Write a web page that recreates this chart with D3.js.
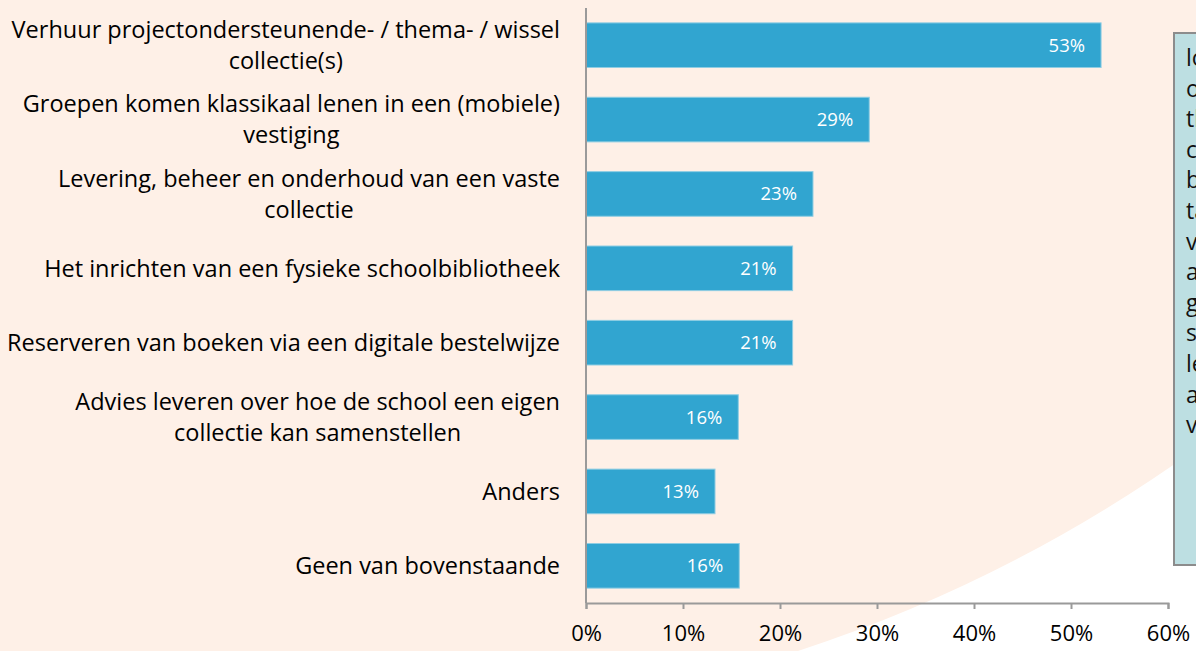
<!DOCTYPE html>
<html>
<head>
<meta charset="utf-8">
<script src="https://cdn.jsdelivr.net/npm/d3@7"></script>
<style>
  html, body { margin: 0; padding: 0; background: #fef0e7; overflow: hidden; }
  svg { display: block; font-family: "Open Sans", "Noto Sans", sans-serif; }
</style>
</head>
<body>
<div id="root"></div>
<script>
// categories, top to bottom (each entry = label lines)
const categories = [
  ['Verhuur projectondersteunende- / thema- / wissel', 'collectie(s)'],
  ['Groepen komen klassikaal lenen in een (mobiele)', 'vestiging'],
  ['Levering, beheer en onderhoud van een vaste', 'collectie'],
  ['Het inrichten van een fysieke schoolbibliotheek'],
  ['Reserveren van boeken via een digitale bestelwijze'],
  ['Advies leveren over hoe de school een eigen', 'collectie kan samenstellen'],
  ['Anders'],
  ['Geen van bovenstaande']
];
const values = [53.1, 29.2, 23.4, 21.3, 21.3, 15.7, 13.3, 15.8];
const valueLabels = ['53%', '29%', '23%', '21%', '21%', '16%', '13%', '16%'];
const xTicks = [0, 10, 20, 30, 40, 50, 60];

// text of the side panel, mostly cut off by the page edge
const panelLines = ['lokale', 'onderwijs', 'thema', 'collectie', 'bieb', 'tasjes', 'voor', 'alle', 'groepen', 'school', 'leerlingen', 'aan', 'vestiging'];

const W = 1196, H = 651;
const margin = { left: 586, right: 28, top: 8, bottom: 48 };

const svg = d3.select('#root').append('svg').attr('width', W).attr('height', H);

// background: peach with white sweep bottom right
svg.append('rect').attr('width', W).attr('height', H).attr('fill', '#fef0e7');
const sweep = d3.path();
sweep.moveTo(798, H);
sweep.quadraticCurveTo(1012, 581, W, 449);
sweep.lineTo(W, H);
sweep.closePath();
svg.append('path').attr('d', sweep.toString()).attr('fill', '#ffffff');

const x = d3.scaleLinear().domain([0, 60]).range([margin.left, W - margin.right]);
const y = d3.scaleBand().domain(d3.range(categories.length))
  .range([margin.top, H - margin.bottom]).paddingInner(0.4).paddingOuter(0.2);

// bars
svg.append('g').selectAll('rect').data(values).join('rect')
  .attr('x', x(0))
  .attr('y', (d, i) => y(i))
  .attr('width', d => x(d) - x(0))
  .attr('height', y.bandwidth())
  .attr('fill', '#31a5d0')
  .attr('stroke', '#8fcde3')
  .attr('stroke-width', 1);

// value labels inside bars
svg.append('g').selectAll('text').data(values).join('text')
  .attr('x', d => x(d) - 16)
  .attr('y', (d, i) => y(i) + y.bandwidth() / 2)
  .attr('dy', '0.35em')
  .attr('text-anchor', 'end')
  .attr('fill', '#ffffff')
  .attr('font-size', 18.5)
  .text((d, i) => valueLabels[i]);

// x axis
const xAxis = svg.append('g')
  .attr('transform', `translate(0,${H - margin.bottom})`)
  .call(d3.axisBottom(x).tickValues(xTicks).tickFormat(d => d + '%').tickSize(6).tickSizeOuter(6));
xAxis.select('.domain').attr('stroke', '#9a9a9a').attr('stroke-width', 2);
xAxis.selectAll('.tick line').attr('stroke', '#9a9a9a').attr('stroke-width', 2);
xAxis.selectAll('.tick text').attr('fill', '#000').attr('font-size', 22)
  .attr('font-family', '"Open Sans", sans-serif').attr('dy', '1.3em');

// y axis line (no ticks)
svg.append('line')
  .attr('x1', x(0)).attr('x2', x(0))
  .attr('y1', margin.top).attr('y2', H - margin.bottom)
  .attr('stroke', '#9a9a9a').attr('stroke-width', 2);

// category labels, block right-aligned, lines centred within block
const labelRight = 560;
const lineGap = 31;
const cat = svg.append('g').selectAll('g').data(categories).join('g');
cat.each(function (lines, i) {
  const g = d3.select(this);
  const cy = y(i) + y.bandwidth() / 2;
  const texts = lines.map((ln, k) => g.append('text')
    .attr('y', cy + (k - (lines.length - 1) / 2) * lineGap)
    .attr('dy', '0.35em')
    .attr('font-size', 23.5)
    .attr('fill', '#000')
    .text(ln));
  const maxW = d3.max(texts, t => t.node().getComputedTextLength());
  texts.forEach(t => t.attr('x', labelRight - maxW / 2).attr('text-anchor', 'middle'));
});

// side panel (cut off by the right edge)
svg.append('rect')
  .attr('x', 1174).attr('y', 33).attr('width', 60).attr('height', 532)
  .attr('fill', '#bddfe2').attr('stroke', '#8c8c8c').attr('stroke-width', 2);
svg.append('g').selectAll('text').data(panelLines).join('text')
  .attr('x', 1186)
  .attr('y', (d, i) => 58 + i * 30.6)
  .attr('dy', '0.35em')
  .attr('font-size', 23)
  .attr('fill', '#111')
  .text(d => d);
</script>
</body>
</html>
